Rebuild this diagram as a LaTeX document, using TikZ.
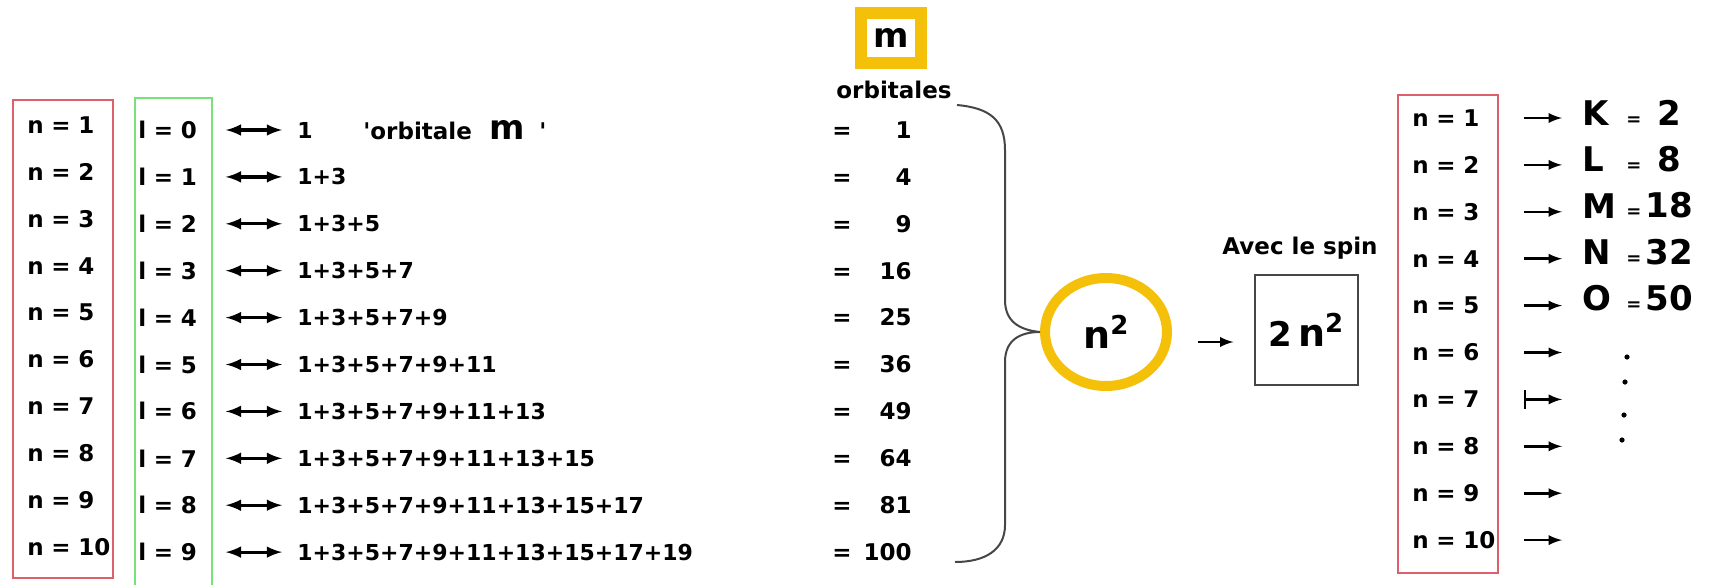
\documentclass[tikz,border=0pt]{standalone}
\usepackage{fontspec}
\setmainfont{DejaVu Sans}
\usetikzlibrary{arrows}
\usetikzlibrary{shapes.geometric}
\definecolor{boxred}{RGB}{222,96,108}
\definecolor{boxgreen}{RGB}{120,225,120}
\definecolor{ringyellow}{RGB}{245,192,10}
\definecolor{bracegray}{RGB}{70,70,70}

\begin{document}
\begin{tikzpicture}[x=0.5pt,y=-0.5pt,
  lbl/.style={anchor=west,inner sep=0pt,font=\bfseries\fontsize{11.5}{12}\selectfont},
  nlbl/.style={lbl,text width=45pt,align=left},
  llbl/.style={lbl,text width=32pt,align=left},
  sumlbl/.style={lbl,font=\bfseries\fontsize{11}{12}\selectfont},
  bigtxt/.style={anchor=west,inner sep=0pt,font=\bfseries\fontsize{17}{17}\selectfont},
  dblarrow/.style={latex-latex,line width=1.6pt},
  sarrow/.style={-latex,line width=1.3pt}]
\def\dy{46.9}

\useasboundingbox (0,0) rectangle (1710,585);

%n and l columns:
\draw[boxred,line width=1pt] (13,100) rectangle (113,578);
\draw[boxgreen,line width=1pt] (135,585) |- (212,98) -- (212,585);
\foreach \i in {1,...,10}
  \node[nlbl] (n\i) at (27,{125+(\i-1)*\dy}) {n = \i};

%sums of the orbitals:
\foreach \l/\s in {0/1,1/1+3,2/1+3+5,3/1+3+5+7,4/1+3+5+7+9,5/1+3+5+7+9+11,
    6/1+3+5+7+9+11+13,7/1+3+5+7+9+11+13+15,8/1+3+5+7+9+11+13+15+17,
    9/1+3+5+7+9+11+13+15+17+19}{
  \node[llbl] (l\l) at (138,{130+\l*\dy}) {l = \l};
  \node[sumlbl] (s\l) at (297,{130+\l*\dy}) {\s};
  \node[lbl,anchor=east] (e\l) at (912,{130+\l*\dy})
    {=\makebox[30pt][r]{\the\numexpr(\l+1)*(\l+1)\relax}};
  \draw[dblarrow,shorten <=11.5pt,shorten >=7.5pt] (l\l) -- (s\l);
}
\node[lbl] (note) at (363,130) {\textquotesingle orbitale\hspace{9pt}{\fontsize{17}{17}\selectfont m}\hspace{7pt}\textquotesingle};

\node[draw=ringyellow,line width=6pt,minimum width=30pt,minimum height=25pt,inner sep=0pt,
  font=\bfseries\fontsize{17}{17}\selectfont] (mbox) at (891,38) {m};
\node[lbl,anchor=center] (orb) at (894,90) {orbitales};

%n^2 and 2n^2:
\node[draw=ringyellow,line width=5pt,ellipse,minimum width=61pt,minimum height=54pt,inner sep=0pt,
  font=\bfseries] (ring) at (1106,332)
  {{\fontsize{19}{19}\selectfont n}\raisebox{7pt}{\fontsize{13}{13}\selectfont 2}};
\draw[bracegray,line width=1pt] (957,105) .. controls (990,108) and (1005,120) .. (1005,150)
  -- (1005,300) .. controls (1005,322) and (1020,330) .. (ring.west)
  .. controls (1020,332) and (1005,340) .. (1005,362)
  -- (1005,525) .. controls (1005,550) and (985,562) .. (955,562);

\node[draw=bracegray,line width=1pt,minimum width=51.5pt,minimum height=55pt,inner sep=0pt,
  font=\bfseries] (spinbox) at (1306,330)
  {{\fontsize{17}{17}\selectfont 2\,}{\fontsize{19}{19}\selectfont n}\raisebox{7pt}{\fontsize{13}{13}\selectfont 2}};
\node[lbl,anchor=center] (spin) at (1300,248) {Avec le spin};
\draw[sarrow,shorten <=13pt,shorten >=10pt] ([yshift=-5pt]ring.east) -- ([yshift=-6pt]spinbox.west);

%shells:
\draw[boxred,line width=1pt] (1398,95) rectangle (1498,573);
\foreach \i in {1,...,10}{
  \node[nlbl] (rn\i) at (1412,{118+(\i-1)*\dy}) {n = \i};
  \coordinate (rt\i) at (1562,{118+(\i-1)*\dy});
}
\foreach \i in {1,2,3,4,5,6,8,9,10}
  \draw[sarrow,shorten <=10.5pt] (rn\i) -- (rt\i);
\draw[|-latex,line width=1.3pt,shorten <=10.5pt] (rn7) -- (rt7);

\foreach \i/\L/\v in {1/K/2,2/L/8,3/M/18,4/N/32,5/O/50}{
  \node[bigtxt] (sh\i) at (1582,{113+(\i-1)*46.3}) {\L};
  \node[bigtxt] (val\i) at (1626,{113+(\i-1)*46.3}) {{\fontsize{9}{9}\selectfont =}\makebox[28pt]{\v}};
}
\foreach \p in {(1627,357),(1625,382),(1624,415),(1622,440)}
  \fill \p circle (1.3pt);

\end{tikzpicture}
\end{document}
